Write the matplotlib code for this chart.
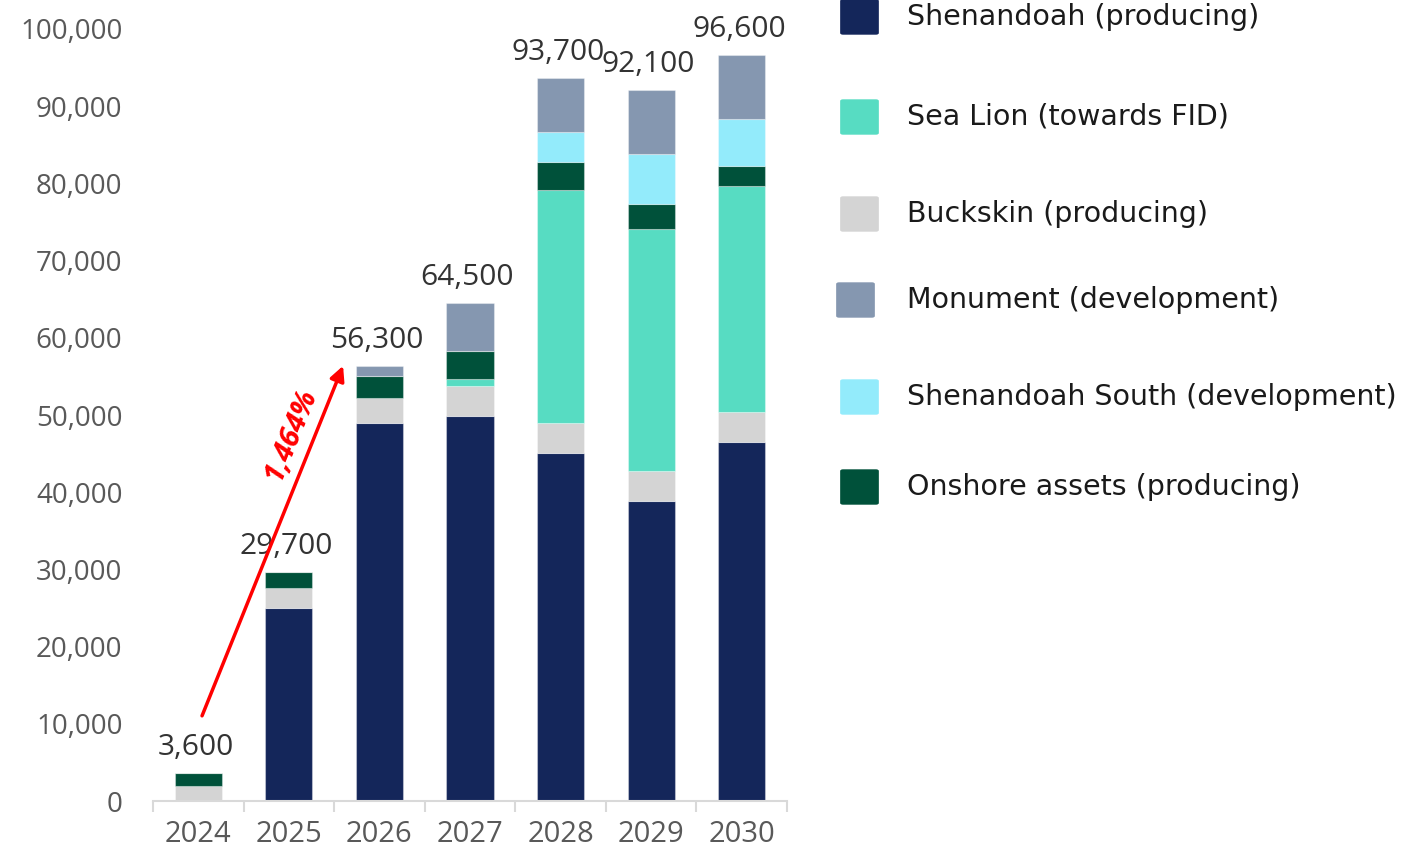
import matplotlib.pyplot as plt
from matplotlib.patches import FancyBboxPatch
import numpy as np

# data
years = ['2024', '2025', '2026', '2027', '2028', '2029', '2030']
shenandoah = [0, 25000, 48900, 49900, 45100, 38800, 46500]
buckskin = [2000, 2600, 3300, 3800, 3900, 4000, 3900]
sea_lion = [0, 0, 0, 1000, 30100, 31300, 29200]
onshore = [1600, 2100, 2900, 3600, 3700, 3200, 2700]
shen_south = [0, 0, 0, 0, 3900, 6500, 6100]
monument = [0, 0, 1200, 6200, 7000, 8300, 8200]
totals = [3600, 29700, 56300, 64500, 93700, 92100, 96600]

series = [
    ('Shenandoah (producing)', shenandoah, '#14265A'),
    ('Buckskin (producing)', buckskin, '#D4D4D4'),
    ('Sea Lion (towards FID)', sea_lion, '#57DCC2'),
    ('Onshore assets (producing)', onshore, '#00513A'),
    ('Shenandoah South (development)', shen_south, '#93EBFB'),
    ('Monument (development)', monument, '#8597B0'),
]
legend_order = ['Shenandoah (producing)', 'Sea Lion (towards FID)', 'Buckskin (producing)',
                'Monument (development)', 'Shenandoah South (development)', 'Onshore assets (producing)']
colors = {n: c for n, _, c in series}

fig = plt.figure(figsize=(14.23, 8.47), dpi=100)
ax = fig.add_axes([153/1423, 1-801/847, (787-153)/1423, (801-29)/847])

x = np.arange(len(years))
bottom = np.zeros(len(years))
for name, vals, col in series:
    v = np.array(vals, dtype=float)
    ax.bar(x, v, 0.52, bottom=bottom, color=col, edgecolor=(1, 1, 1, 0.35), linewidth=0.8)
    bottom += v

# totals above bars
for xi, t in zip(x, totals):
    ax.annotate(f'{t:,}', (xi, t), xytext=(-2, 8), textcoords='offset points',
                ha='center', va='bottom', fontsize=21.5, color='#333333',
                family='Open Sans', fontweight='medium', clip_on=False)

ax.set_xlim(-0.5, len(years)-0.5)
ax.set_ylim(0, 100000)
ax.set_yticks(range(0, 100001, 10000))
ax.set_yticklabels([f'{v:,}' for v in range(0, 100001, 10000)], family='Open Sans', fontsize=20, color='#595959')
ax.set_xticks(x)
ax.set_xticklabels(years, family='Open Sans', fontsize=21, color='#595959')
ax.set_xticks(np.arange(-0.5, len(years)), minor=True)
ax.tick_params(axis='y', length=0, pad=22)
ax.tick_params(axis='x', which='major', length=0, pad=14)
ax.tick_params(axis='x', which='minor', length=8, color='#D9D9D9', width=1.5)
for s in ['top', 'right', 'left']:
    ax.spines[s].set_visible(False)
ax.spines['bottom'].set_color('#D9D9D9')
ax.spines['bottom'].set_linewidth(1.5)

# growth arrow
ax.annotate('', xy=(1.61, 56700), xytext=(0.03, 10700),
            arrowprops=dict(arrowstyle='-|>', color='#FF0000', lw=2.5, mutation_scale=22))
ax.text(1.02, 47500, '1,464%', color='#FF0000', fontsize=21, fontweight='bold', style='italic',
        rotation=68, ha='center', va='center', family='Open Sans')

# legend
rows = [17, 117, 214, 300, 397, 487]
for name, yc in zip(legend_order, rows):
    xs = 839 if name.startswith('Monument') else 843
    fig.patches.append(FancyBboxPatch((xs/1423, 1-(yc+16)/847), 33/1423, 32/847,
                                      boxstyle='round,pad=0.002', transform=fig.transFigure,
                                      facecolor=colors[name], edgecolor='none'))
    fig.text(907/1423, 1-yc/847, name, fontsize=20.5, color='#1A1A1A', family='DejaVu Sans', va='center')

fig.savefig('out.png', dpi=100)
